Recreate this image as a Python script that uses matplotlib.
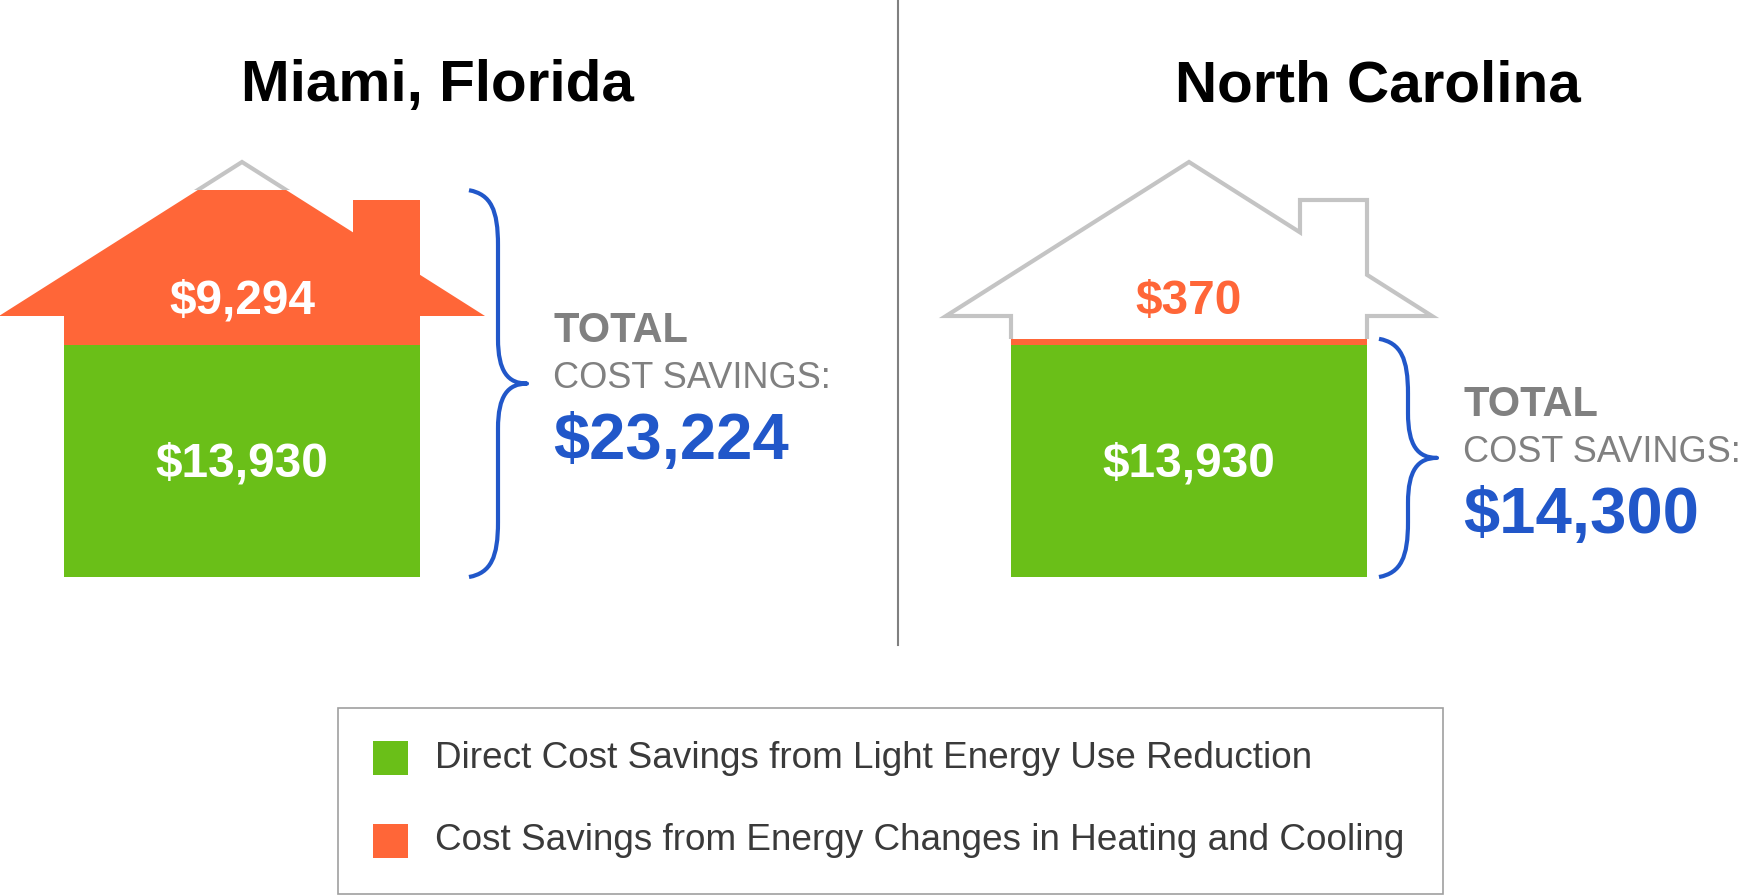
import matplotlib
matplotlib.use('Agg')
import matplotlib.pyplot as plt
from matplotlib.patches import Polygon, Rectangle, PathPatch
from matplotlib.path import Path

plt.rcParams['font.family'] = ['Liberation Sans', 'DejaVu Sans']

# Datos
regions = ['Miami, Florida', 'North Carolina']
direct_savings = [13930, 13930]
hvac_savings = [9294, 370]
legend_labels = ['Direct Cost Savings from Light Energy Use Reduction',
                 'Cost Savings from Energy Changes in Heating and Cooling']

GREEN = '#6abf18'
ORANGE = '#ff6638'
BLUE = '#2157c9'
GRAY_TXT = '#808080'
OUTLINE = '#c4c4c4'

# layout (pixel units, figure is 1760x896)
centers = [242, 1189]
title_x = [437, 1378]
base_y = 577
eave_y = 316
apex_y = 162
roof_half = 243
wall_half = 178
chim_left = 111
chim_top = 200
px_per_dollar = 232 / 13930
brace_x = [469, 1379]

fig = plt.figure(figsize=(17.6, 8.96), dpi=100)
ax = fig.add_axes([0, 0, 1, 1])
ax.set_xlim(0, 1760)
ax.set_ylim(896, 0)
ax.axis('off')


def house_points(cx):
    slope = (eave_y - apex_y) / roof_half
    return [(cx - wall_half, base_y), (cx - wall_half, eave_y),
            (cx - roof_half, eave_y), (cx, apex_y),
            (cx + chim_left, apex_y + chim_left * slope),
            (cx + chim_left, chim_top), (cx + wall_half, chim_top),
            (cx + wall_half, apex_y + wall_half * slope),
            (cx + roof_half, eave_y), (cx + wall_half, eave_y),
            (cx + wall_half, base_y)]


def draw_brace(x0, ytop, ybot, w=58):
    xm = x0 + w / 2
    ym = (ytop + ybot) / 2
    verts = [(x0, ytop), (x0 + 22, ytop + 4), (xm, ytop + 20), (xm, ytop + 55),
             (xm, ym - 45),
             (xm, ym - 12), (xm + 10, ym), (x0 + w, ym),
             (xm + 10, ym), (xm, ym + 12), (xm, ym + 45),
             (xm, ybot - 55),
             (xm, ybot - 20), (x0 + 22, ybot - 4), (x0, ybot)]
    codes = [Path.MOVETO, Path.CURVE4, Path.CURVE4, Path.CURVE4,
             Path.LINETO,
             Path.CURVE4, Path.CURVE4, Path.CURVE4,
             Path.CURVE4, Path.CURVE4, Path.CURVE4,
             Path.LINETO,
             Path.CURVE4, Path.CURVE4, Path.CURVE4]
    ax.add_patch(PathPatch(Path(verts, codes), fill=False, edgecolor=BLUE,
                           lw=3, capstyle='butt', joinstyle='round'))
    return x0 + w, ym


for i, region in enumerate(regions):
    cx = centers[i]
    pts = house_points(cx)
    h_green = direct_savings[i] * px_per_dollar
    h_orange = hvac_savings[i] * px_per_dollar
    fill_top = base_y - h_green - h_orange

    # contorno de la casa (solo visible por encima del relleno)
    outline = Polygon(pts, closed=False, fill=False, edgecolor=OUTLINE, lw=3,
                      joinstyle='miter')
    ax.add_patch(outline)
    outline.set_clip_path(Rectangle((0, 0), 1760, fill_top, transform=ax.transData))

    clip = Polygon(pts, closed=True, transform=ax.transData)
    green = Rectangle((cx - 260, base_y - h_green), 520, h_green,
                      facecolor=GREEN, edgecolor='none')
    orange = Rectangle((cx - 260, fill_top), 520, h_orange,
                       facecolor=ORANGE, edgecolor='none')
    ax.add_patch(green)
    ax.add_patch(orange)
    green.set_clip_path(clip)
    orange.set_clip_path(clip)

    ax.text(title_x[i], 86, region, ha='center', va='center', fontsize=42,
            fontweight='bold', color='black')

    lbl_color = 'white' if h_orange > 60 else ORANGE
    ax.text(cx, 301, '${:,}'.format(hvac_savings[i]), ha='center', va='center',
            fontsize=34.5, fontweight='bold', color=lbl_color)
    ax.text(cx, 464, '${:,}'.format(direct_savings[i]), ha='center', va='center',
            fontsize=34.5, fontweight='bold', color='white')

    tip_x, mid_y = draw_brace(brace_x[i], fill_top, base_y)
    tx = tip_x + 26
    total = direct_savings[i] + hvac_savings[i]
    ax.text(tx, mid_y - 53, 'TOTAL', ha='left', va='center', fontsize=30,
            fontweight='bold', color=GRAY_TXT)
    ax.text(tx, mid_y - 5, 'COST SAVINGS:', ha='left', va='center', fontsize=26,
            color=GRAY_TXT)
    ax.text(tx, mid_y + 58, '${:,}'.format(total), ha='left', va='center',
            fontsize=47, fontweight='bold', color=BLUE)

# separador
ax.plot([898, 898], [0, 645], color='#808080', lw=1.5)

# leyenda
ax.add_patch(Rectangle((338, 708), 1105, 186, fill=False, edgecolor='#a0a0a0', lw=1.2))
for j, (lab, col) in enumerate(zip(legend_labels, [GREEN, ORANGE])):
    y = 758 + j * 83
    ax.add_patch(Rectangle((373, y - 17), 35, 34, facecolor=col, edgecolor='none'))
    ax.text(435, y, lab, ha='left', va='center', fontsize=26.6, color='#3a3a3a')

fig.savefig('out.png', dpi=100)
